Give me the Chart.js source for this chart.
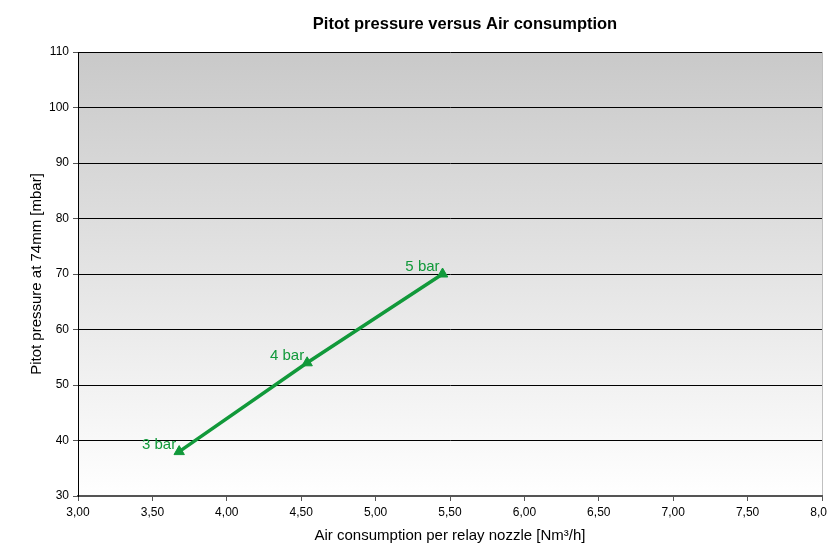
<!DOCTYPE html>
<html>
<head>
<meta charset="utf-8">
<script src="https://cdn.jsdelivr.net/npm/chart.js@4.4.0/dist/chart.umd.min.js"></script>
<style>
  html, body { margin: 0; padding: 0; background: #fff; }
  #wrap { width: 827px; height: 543px; }
</style>
</head>
<body>
<div id="wrap"><canvas id="pitotChart" width="827" height="543"></canvas></div>
<script>
// values
const airConsumption = [3.68, 4.54, 5.45];
const pitotPressure = [38, 54, 70];
const pointLabels = ["3 bar", "4 bar", "5 bar"];
const chartTitle = "Pitot pressure versus Air consumption";

const green = "#11993a";
const font = "'Liberation Sans', Arial, sans-serif";

// grey-to-white fill behind the plot
const plotBackground = {
    id: "plotBackground",
    beforeDraw(chart) {
        const a = chart.chartArea;
        const ctx = chart.ctx;
        const g = ctx.createLinearGradient(0, a.top, 0, a.bottom);
        g.addColorStop(0, "#c9c9c9");
        g.addColorStop(1, "#ffffff");
        ctx.save();
        ctx.fillStyle = g;
        ctx.fillRect(a.left, a.top, a.right - a.left, a.bottom - a.top);
        // thin right border
        ctx.strokeStyle = "#c0c0c0";
        ctx.lineWidth = 1;
        ctx.beginPath();
        ctx.moveTo(a.right + 0.5, a.top);
        ctx.lineTo(a.right + 0.5, a.bottom);
        ctx.stroke();
        // title, sits a bit right of centre like the original
        ctx.fillStyle = "#000";
        ctx.font = "bold 16.5px " + font;
        ctx.textAlign = "center";
        ctx.textBaseline = "middle";
        ctx.fillText(chartTitle, (a.left + a.right) / 2 + 15, 24);
        ctx.restore();
    }
};

// "3 bar" style labels next to each point
const pointText = {
    id: "pointText",
    afterDatasetsDraw(chart) {
        const ctx = chart.ctx;
        const meta = chart.getDatasetMeta(0);
        ctx.save();
        ctx.fillStyle = green;
        ctx.font = "15px " + font;
        ctx.textAlign = "right";
        ctx.textBaseline = "middle";
        meta.data.forEach((pt, i) => {
            ctx.fillText(pointLabels[i], pt.x - 3, pt.y - 7);
        });
        ctx.restore();
    }
};

const ctx = document.getElementById("pitotChart").getContext("2d");

const chart = new Chart(ctx, {
    type: "scatter",
    data: {
        datasets: [{
            data: airConsumption.map((x, i) => ({ x: x, y: pitotPressure[i] })),
            showLine: true,
            borderColor: green,
            backgroundColor: green,
            borderWidth: 3.5,
            pointStyle: "triangle",
            pointRadius: 6,
            pointBorderWidth: 1
        }]
    },
    options: {
        responsive: false,
        animation: false,
        layout: { autoPadding: false, padding: { left: 28, right: 5, top: 52, bottom: 0 } },
        plugins: {
            legend: { display: false },
            tooltip: { enabled: false },
            title: { display: false }
        },
        scales: {
            x: {
                type: "linear",
                min: 3,
                max: 8,
                afterFit(scale) {
                    scale.height = 47;
                    // let the last label run off the edge, as in the original
                    scale.paddingLeft = 0;
                    scale.paddingRight = 0;
                },
                ticks: {
                    stepSize: 0.5,
                    color: "#000",
                    padding: 4,
                    maxRotation: 0,
                    font: { family: font, size: 12 },
                    callback: v => v.toFixed(2).replace(".", ",")
                },
                grid: {
                    drawOnChartArea: false,
                    drawTicks: true,
                    tickLength: 5,
                    tickColor: "#555",
                    color: "#555"
                },
                border: { color: "#555", width: 2 },
                title: {
                    display: true,
                    text: "Air consumption per relay nozzle [Nm³/h]",
                    color: "#000",
                    font: { family: font, size: 15 },
                    padding: { top: 4, bottom: -2 }
                }
            },
            y: {
                min: 30,
                max: 110,
                afterFit(scale) {
                    scale.width = 50;
                    scale.paddingTop = 0;
                    scale.paddingBottom = 0;
                },
                ticks: {
                    stepSize: 10,
                    color: "#000",
                    padding: 4,
                    font: { family: font, size: 12 }
                },
                grid: {
                    color: "#000",
                    lineWidth: 1,
                    tickLength: 5,
                    tickColor: "#555"
                },
                border: { color: "#000", width: 1 },
                title: {
                    display: true,
                    text: "Pitot pressure at 74mm [mbar]",
                    color: "#000",
                    font: { family: font, size: 15 },
                    padding: { top: 0, bottom: 0 }
                }
            }
        }
    },
    plugins: [plotBackground, pointText]
});
</script>
</body>
</html>
